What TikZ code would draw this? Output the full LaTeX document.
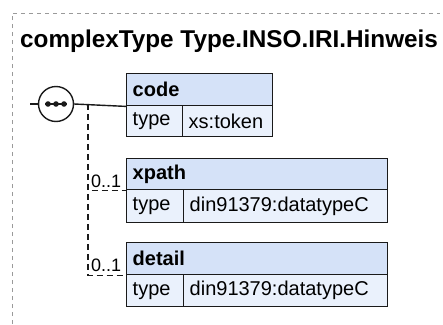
\documentclass[tikz,border=0pt]{standalone}
\usepackage{fontspec}
\setmainfont{Liberation Sans}
\definecolor{hdrblue}{HTML}{D5E2F8}
\definecolor{rowblue}{HTML}{EAF1FC}
\definecolor{framegray}{HTML}{9A9A9A}
\definecolor{ink}{HTML}{1A1A1A}
\begin{document}
\begin{tikzpicture}[x=1pt,y=-1pt,
  cell/.style={draw=ink, line width=1.4pt, rectangle, anchor=north west, inner xsep=6pt, inner ysep=0pt, align=left},
  hdrcell/.style={cell, fill=hdrblue, font=\bfseries\fontsize{20}{24}\selectfont, minimum height=32pt},
  rowcell/.style={cell, fill=rowblue, font=\fontsize{20}{24}\selectfont, minimum height=31pt},
  mult/.style={anchor=base west, inner sep=0pt, font=\fontsize{18}{22}\selectfont},
  conn/.style={draw=ink, line width=1.4pt},
  optconn/.style={conn, dash pattern=on 6pt off 4pt},
  frameline/.style={draw=framegray, line width=0.9pt, dash pattern=on 4pt off 4pt}]
\useasboundingbox (0,0) rectangle (443,324);
% frame
\draw[frameline] (12,324) -- (12,13) -- (440,13);
\node[anchor=base west, inner sep=0pt, font=\bfseries\fontsize{24.3}{28}\selectfont] (title) at (20,47) {complexType Type.INSO.IRI.Hinweis};
% code
\node[hdrcell, text width=134pt] (codeh) at (126,73) {code};
\node[rowcell, text width=44pt] (codet) at (126,105) {type};
\node[rowcell, text width=78pt] (codev) at (182,105) {xs:token};
% xpath
\node[hdrcell, text width=249pt, minimum height=31pt] (xpathh) at (126,158) {xpath};
\node[rowcell, text width=45pt, minimum height=33pt] (xpatht) at (126,189) {type};
\node[rowcell, text width=192pt, minimum height=33pt] (xpathv) at (183,189) {din91379:datatypeC};
% detail
\node[hdrcell, text width=249pt] (detailh) at (126,242) {detail};
\node[rowcell, text width=45pt, minimum height=32pt] (detailt) at (126,274) {type};
\node[rowcell, text width=192pt, minimum height=32pt] (detailv) at (183,274) {din91379:datatypeC};
% sequence compositor
\coordinate (start) at (30,104);
\node[circle, draw=ink, fill=white, line width=1.4pt, minimum size=35pt, inner sep=0pt] (seq) at (56,104) {};
\draw[conn] (start) -- (seq.west);
\draw[conn] (seq.east) -- (codeh.south west);
\draw[ink, line width=1.4pt] (45,104) -- (67,104);
\foreach \dx in {48,56,64} \fill[ink] (\dx,104) circle (2.8pt);
% optional connectors
\coordinate (branch) at (88,104);
\draw[optconn] (branch) |- (xpathh.south west);
\draw[optconn] (branch) |- (detailh.south west);
\node[mult] (m1) at (91,187) {0..1};
\node[mult] (m2) at (91,271) {0..1};
\end{tikzpicture}
\end{document}
